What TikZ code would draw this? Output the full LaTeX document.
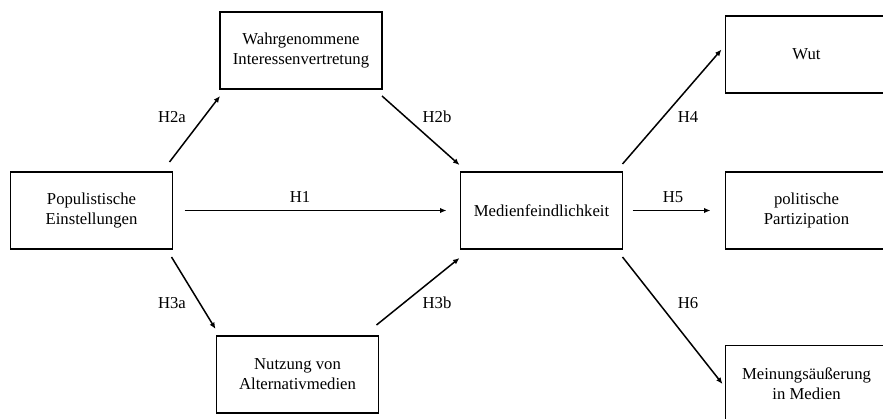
\documentclass[tikz,border=0pt]{standalone}
\usepackage{fontspec}
\setmainfont{Liberation Serif}
\usetikzlibrary{arrows.meta,positioning,calc}

\begin{document}
\begin{tikzpicture}[x=1pt,y=-1pt,font=\fontsize{16.7}{20}\selectfont,>={Latex[length=6.5pt,width=5.5pt]},
  var/.style={draw,line width=1.8pt,outer sep=0pt,inner sep=0pt,minimum width=162pt,minimum height=77pt,align=center},
  hyp/.style={->,line width=1.5pt},
  lab/.style={inner sep=0pt}]
\useasboundingbox (0,0) rectangle (883,419);
\clip (0,0) rectangle (883,419);
% variables
\node[var] (pop) at (91.5,210.5) {Populistische\\Einstellungen};
\node[var] (wahr) at (301,50.5) {Wahrgenommene\\Interessenvertretung};
\node[var] (nutz) at (297.5,374.5) {Nutzung von\\Alternativmedien};
\node[var,right=288pt of pop] (med) {Medienfeindlichkeit};
\node[var,right=103pt of med] (pol) {politische\\Partizipation};
\node[var,above=79pt of pol] (wut) {Wut};
\node[var,below=96.5pt of pol] (mein) {Meinungsäußerung\\in Medien};
% paths
\draw[hyp] ($(pop.north east)+(-3,-10)$) -- ($(wahr.south west)+(0,7)$);
\draw[hyp] ($(wahr.south east)+(0,7)$) -- ($(med.north west)+(-1,-7)$);
\draw[hyp] ($(pop.east)+(12,0)$) -- ($(med.west)+(-14,0)$);
\draw[hyp] ($(pop.south east)+(-1,8)$) -- ($(nutz.north west)+(-1,-7)$);
\draw[hyp] ($(nutz.north east)+(-2,-11)$) -- ($(med.south west)+(-1,9)$);
\draw[hyp] ($(med.north east)+(0,-8)$) -- ($(wut.west)+(-4,-5)$);
\draw[hyp] ($(med.east)+(10,0)$) -- ($(pol.west)+(-15,0)$);
\draw[hyp] ($(med.south east)+(0,8)$) -- ($(mein.west)+(-3,0)$);
% hypotheses
\node[lab] (h2a) at (172,117) {H2a};
\node[lab] (h2b) at (437,117) {H2b};
\node[lab] (h1) at (300,197) {H1};
\node[lab] (h3a) at (172,303) {H3a};
\node[lab] (h3b) at (437,303) {H3b};
\node[lab] (h4) at (688,117) {H4};
\node[lab] (h5) at (673,197) {H5};
\node[lab] (h6) at (688,303) {H6};
\end{tikzpicture}
\end{document}
